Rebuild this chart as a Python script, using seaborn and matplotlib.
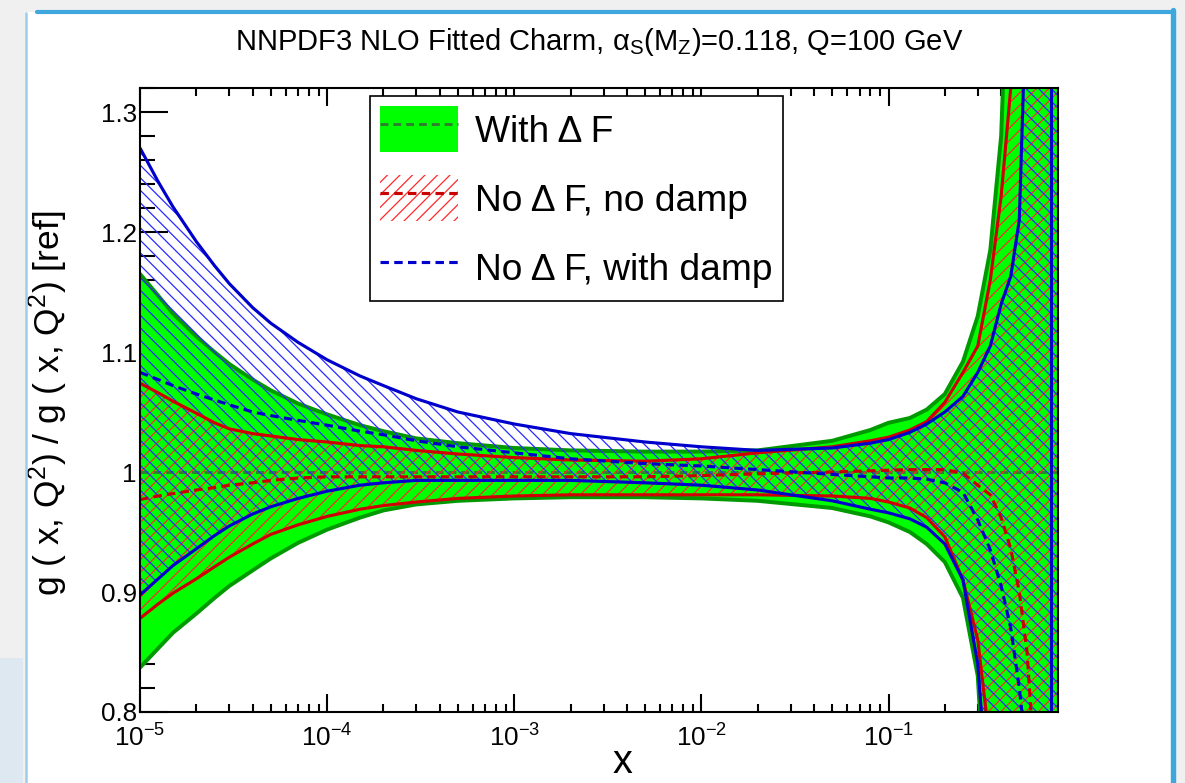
import numpy as np
import matplotlib
matplotlib.use("Agg")
import matplotlib.pyplot as plt
from matplotlib.patches import Patch, Rectangle
from matplotlib.lines import Line2D
from matplotlib.ticker import AutoMinorLocator, NullFormatter, LogLocator
import seaborn as sns

# values (ratio to reference fit)
x = [1e-5, 1.25e-5, 1.5e-5, 2e-5, 2.5e-5, 3e-5, 4e-5, 5e-5, 7e-5, 1e-4,
     1.5e-4, 2e-4, 3e-4, 5e-4, 1e-3, 2e-3, 5e-3, 1e-2, 2e-2, 5e-2,
     0.08, 0.1, 0.13, 0.16, 0.2, 0.25, 0.3, 0.35, 0.4, 0.45,
     0.5, 0.55, 0.6, 0.65, 0.7, 0.75, 0.805]

green_up = [1.165, 1.147, 1.132, 1.113, 1.100, 1.090, 1.077, 1.068, 1.057, 1.048,
            1.039, 1.034, 1.028, 1.024, 1.020, 1.018, 1.017, 1.017, 1.018, 1.026,
            1.035, 1.041, 1.045, 1.052, 1.065, 1.092, 1.13, 1.185, 1.28, 1.5,
            1.7, 1.9, 2.0, 2.0, 2.0, 2.0, 2.0]
green_lo = [0.837, 0.853, 0.866, 0.882, 0.895, 0.905, 0.918, 0.928, 0.941, 0.952,
            0.962, 0.968, 0.973, 0.976, 0.978, 0.979, 0.979, 0.978, 0.976, 0.970,
            0.963, 0.958, 0.950, 0.940, 0.925, 0.895, 0.83, 0.65, 0.5, 0.4,
            0.3, 0.3, 0.3, 0.3, 0.3, 0.3, 0.3]
green_mid = [1.0] * len(x)

red_up = [1.074, 1.066, 1.059, 1.049, 1.041, 1.036, 1.032, 1.030, 1.027, 1.025,
          1.022, 1.021, 1.018, 1.015, 1.012, 1.010, 1.009, 1.011, 1.016, 1.021,
          1.026, 1.029, 1.035, 1.042, 1.058, 1.083, 1.105, 1.16, 1.23, 1.32,
          1.5, 1.8, 1.8, 1.8, 1.8, 1.8, 1.8]
red_lo = [0.878, 0.890, 0.899, 0.911, 0.921, 0.929, 0.940, 0.948, 0.956, 0.963,
          0.969, 0.972, 0.975, 0.978, 0.980, 0.981, 0.981, 0.981, 0.981, 0.980,
          0.978, 0.975, 0.970, 0.962, 0.946, 0.91, 0.86, 0.77, 0.6, 0.45,
          0.4, 0.4, 0.4, 0.4, 0.4, 0.4, 0.4]
red_mid = [0.977, 0.980, 0.982, 0.985, 0.987, 0.989, 0.991, 0.993, 0.995, 0.996,
           0.996, 0.996, 0.996, 0.996, 0.996, 0.996, 0.996, 0.997, 0.9985, 1.000,
           1.001, 1.0015, 1.002, 1.002, 1.002, 0.999, 0.989, 0.981, 0.962, 0.936,
           0.90, 0.85, 0.76, 0.68, 0.6, 0.6, 0.6]

blue_up = [1.27, 1.242, 1.221, 1.192, 1.172, 1.157, 1.137, 1.124, 1.108, 1.0935,
           1.08, 1.072, 1.061, 1.05, 1.04, 1.032, 1.025, 1.021, 1.018, 1.020,
           1.024, 1.027, 1.033, 1.04, 1.05, 1.063, 1.083, 1.105, 1.14, 1.163,
           1.21, 1.42, 1.6, 1.8, 1.8, 1.8, 1.8]
blue_lo = [0.8975, 0.911, 0.922, 0.936, 0.947, 0.955, 0.965, 0.971, 0.978, 0.984,
           0.989, 0.991, 0.993, 0.993, 0.993, 0.993, 0.991, 0.989, 0.985, 0.976,
           0.969, 0.966, 0.961, 0.954, 0.94, 0.91, 0.84, 0.7, 0.55, 0.4,
           0.4, 0.4, 0.4, 0.4, 0.4, 0.4, 0.4]
blue_mid = [1.083, 1.077, 1.072, 1.065, 1.06, 1.056, 1.05, 1.047, 1.043, 1.039,
            1.034, 1.031, 1.026, 1.021, 1.016, 1.011, 1.007, 1.005, 1.002, 0.998,
            0.996, 0.995, 0.995, 0.994, 0.991, 0.983, 0.96, 0.935, 0.905, 0.87,
            0.82, 0.76, 0.7, 0.6, 0.6, 0.6, 0.6]
blue_edge_x = 0.735

labels = ["With Δ F", "No Δ F, no damp", "No Δ F, with damp"]
title = "NNPDF3 NLO Fitted Charm, α$_{S}$(M$_{Z}$)=0.118, Q=100 GeV"

sns.set_theme(style="ticks")
plt.rcParams["font.family"] = ["Liberation Sans", "DejaVu Sans"]
plt.rcParams.update({
    "mathtext.fontset": "custom",
    "mathtext.rm": "Liberation Sans",
    "mathtext.it": "Liberation Sans:italic",
    "mathtext.bf": "Liberation Sans:bold",
    "mathtext.sf": "Liberation Sans",
    "mathtext.default": "regular",
    "hatch.linewidth": 0.6,
    "legend.fancybox": False,
    "text.color": "black",
    "axes.labelcolor": "black",
    "xtick.color": "black",
    "ytick.color": "black",
})

W, H, DPI = 1185, 783, 150
fig = plt.figure(figsize=(W / DPI, H / DPI), dpi=DPI, facecolor="#f0f0f0")

# slide panel around the plot
fig.patches.append(Rectangle((27 / W, 0), (1172 - 27) / W, 1 - 12 / H,
                             transform=fig.transFigure, facecolor="white",
                             edgecolor="none", zorder=-10))
fig.patches.append(Rectangle((0, 0), 23 / W, 1 - 658 / H, transform=fig.transFigure,
                             facecolor="#dde8f1", edgecolor="none", zorder=-10))
fig.lines.append(Line2D([37 / W, 1174 / W], [1 - 11.5 / H] * 2, transform=fig.transFigure,
                        color="#3ea7dc", lw=2.0))
fig.lines.append(Line2D([1172.5 / W] * 2, [0, 1 - 10 / H], transform=fig.transFigure,
                        color="#3ea7dc", lw=2.6))
fig.lines.append(Line2D([26 / W] * 2, [0, 1 - 13 / H], transform=fig.transFigure,
                        color="#9fcde9", lw=1.2))

ax = fig.add_axes([140 / W, 1 - 712 / H, (1058 - 140) / W, (712 - 88) / H])
ax.set_facecolor("white")

dash = (0, (2.7, 1.7))

# bands
ax.fill_between(x, green_lo, green_up, facecolor="#00ff00", edgecolor="none", zorder=1)
sns.lineplot(x=x, y=green_up, ax=ax, color="#009a00", lw=1.9, zorder=2)
sns.lineplot(x=x, y=green_lo, ax=ax, color="#009a00", lw=1.9, zorder=2)
sns.lineplot(x=x, y=green_mid, ax=ax, color="#2f7f2f", lw=1.4, linestyle=dash, zorder=3)

ax.fill_between(x, red_lo, red_up, facecolor="none", edgecolor="#ff2a2a",
                hatch="////", lw=0, zorder=4)
ax.fill_between(x, blue_lo, blue_up, facecolor="none", edgecolor="#2a2aff",
                hatch="\\\\\\\\", lw=0, zorder=4)

sns.lineplot(x=x, y=red_up, ax=ax, color="#d00000", lw=1.5, zorder=5)
sns.lineplot(x=x, y=red_lo, ax=ax, color="#d00000", lw=1.5, zorder=5)
sns.lineplot(x=x, y=red_mid, ax=ax, color="#c80000", lw=1.5, linestyle=dash, zorder=6)
sns.lineplot(x=x, y=blue_up, ax=ax, color="#0000cc", lw=1.5, zorder=7)
sns.lineplot(x=x, y=blue_lo, ax=ax, color="#0000cc", lw=1.5, zorder=7)
sns.lineplot(x=x, y=blue_mid, ax=ax, color="#0000cc", lw=1.5, linestyle=dash, zorder=8)
ax.axvline(blue_edge_x, color="#0000cc", lw=1.5, zorder=7)

ax.set_xscale("log")
ax.set_xlim(1e-5, 0.805)
ax.set_ylim(0.8, 1.32)

ax.set_xticks([1e-5, 1e-4, 1e-3, 1e-2, 1e-1])
ax.set_xticklabels([r"10$^{-5}$", r"10$^{-4}$", r"10$^{-3}$", r"10$^{-2}$", r"10$^{-1}$"])
ax.xaxis.set_minor_locator(LogLocator(base=10, subs=np.arange(2, 10)))
ax.xaxis.set_minor_formatter(NullFormatter())
ax.set_yticks([0.8, 0.9, 1.0, 1.1, 1.2, 1.3])
ax.set_yticklabels(["0.8", "0.9", "1", "1.1", "1.2", "1.3"])
ax.yaxis.set_minor_locator(AutoMinorLocator(5))

ax.tick_params(which="both", direction="in", top=True, right=False, width=1.0,
               colors="black", labelsize=12.5, zorder=20)
ax.tick_params(axis="y", which="major", length=13.4, pad=1.5)
ax.tick_params(axis="y", which="minor", length=7.0)
ax.tick_params(axis="x", which="major", length=8.6, pad=6)
ax.tick_params(axis="x", which="minor", length=3.8)
for s in ax.spines.values():
    s.set_linewidth(1.0)
    s.set_color("black")
    s.set_zorder(20)

ax.set_xlabel("x", fontsize=19)
ax.xaxis.set_label_coords((622 - 140) / 918, -0.05)
ax.set_ylabel("g ( x, Q$^{2}$) / g ( x, Q$^{2}$) [ref]", fontsize=17)
ax.yaxis.set_label_coords(-0.076, 0.494)

fig.text(599 / W, 1 - 50 / H, title, ha="center", va="baseline", fontsize=14)

h_green = (Patch(facecolor="#00ff00", edgecolor="none"),
           Line2D([], [], color="#2f7f2f", lw=1.4, linestyle=dash))
h_red = (Patch(facecolor="none", edgecolor="#ff2a2a", hatch="////", lw=0),
         Line2D([], [], color="#c80000", lw=1.5, linestyle=dash))
h_blue = Line2D([], [], color="#0000cc", lw=1.5, linestyle=dash)
leg = ax.legend([h_green, h_red, h_blue], labels, loc="upper left",
                bbox_to_anchor=(0.2505, 0.987), borderaxespad=0, fontsize=17.8,
                handlelength=2.1, handleheight=1.53, handletextpad=0.45,
                labelspacing=0.62, borderpad=0.28, frameon=True, framealpha=1)
leg.get_frame().set_edgecolor("black")
leg.get_frame().set_linewidth(0.8)
leg.set_zorder(30)

fig.savefig("out.png", dpi=DPI, facecolor=fig.get_facecolor())
